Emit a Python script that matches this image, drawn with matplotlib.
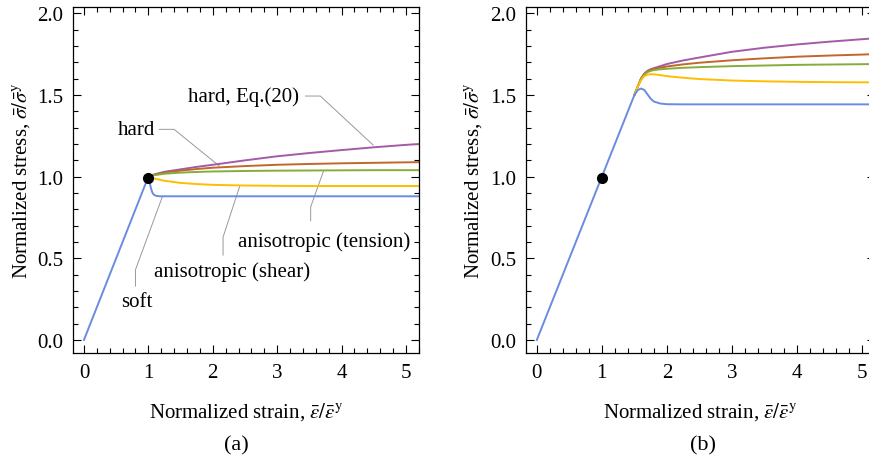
import numpy as np
import matplotlib
matplotlib.use('Agg')
import matplotlib.pyplot as plt

plt.rcParams['font.family'] = ['Liberation Serif', 'DejaVu Serif']
plt.rcParams['mathtext.fontset'] = 'stix'

# Colours of the five models
col_soft = '#6a8ce0'
col_shear = '#ffbe00'
col_tension = '#86ad3a'
col_hard = '#c0682c'
col_eq20 = '#a35aa8'

# Panel (a): elastic branch, then plastic branches from the yield point
elastic_a_x = [0.0, 1.0]
elastic_a_y = [0.0, 1.0]

plastic_a_x = [1.0, 1.1, 1.25, 1.5, 1.75, 2.0, 2.5, 3.0, 3.5, 4.0, 4.5, 5.0, 5.2]
eq20_a = [1.0, 1.015, 1.03, 1.045, 1.06, 1.073, 1.10, 1.125, 1.145, 1.163, 1.18, 1.195, 1.20]
hard_a = [1.0, 1.012, 1.025, 1.037, 1.047, 1.055, 1.065, 1.073, 1.078, 1.082, 1.085, 1.088, 1.089]
tension_a = [1.0, 1.01, 1.018, 1.025, 1.029, 1.032, 1.035, 1.037, 1.038, 1.039, 1.04, 1.04, 1.04]
shear_a = [1.0, 0.988, 0.975, 0.962, 0.955, 0.95, 0.946, 0.944, 0.943, 0.943, 0.943, 0.943, 0.943]

soft_a_x = [1.0, 1.02, 1.04, 1.06, 1.08, 1.1, 1.13, 1.18, 1.3, 2.0, 5.2]
soft_a_y = [1.0, 0.965, 0.93, 0.905, 0.892, 0.886, 0.882, 0.88, 0.88, 0.88, 0.88]

# Panel (b)
elastic_b_x = [0.0, 1.5]
elastic_b_y = [0.0, 1.5]

plastic_b_x = [1.5, 1.55, 1.6, 1.65, 1.7, 1.75, 1.8, 1.9, 2.0, 2.25, 2.5, 3.0, 3.5, 4.0, 4.5, 5.0, 5.2]
soft_b = [1.5, 1.53, 1.54, 1.532, 1.505, 1.478, 1.46, 1.448, 1.444, 1.443, 1.443, 1.443, 1.443, 1.443, 1.443, 1.443, 1.443]
shear_b = [1.5, 1.55, 1.59, 1.615, 1.625, 1.628, 1.627, 1.622, 1.616, 1.606, 1.598, 1.589, 1.584, 1.581, 1.579, 1.578, 1.578]
tension_b = [1.5, 1.55, 1.595, 1.625, 1.64, 1.648, 1.653, 1.658, 1.661, 1.667, 1.671, 1.677, 1.681, 1.685, 1.687, 1.689, 1.69]
hard_b = [1.5, 1.55, 1.598, 1.628, 1.645, 1.655, 1.661, 1.668, 1.675, 1.688, 1.698, 1.713, 1.725, 1.735, 1.742, 1.748, 1.751]
eq20_b = [1.5, 1.55, 1.60, 1.63, 1.648, 1.658, 1.665, 1.677, 1.69, 1.712, 1.73, 1.765, 1.79, 1.81, 1.827, 1.842, 1.848]

yield_x = [1.0]
yield_y = [0.99]

# Labels and leader lines of panel (a): text position, then leader polyline
labels_a = ['hard, Eq.(20)', 'hard', 'anisotropic (tension)', 'anisotropic (shear)', 'soft']
label_pos = [(2.48, 1.494), (0.82, 1.29), (3.73, 0.606), (2.30, 0.42), (0.82, 0.233)]
leader_x = [[3.44, 3.67, 4.49], [1.17, 1.40, 2.10], [3.72, 3.52, 3.52], [2.42, 2.16, 2.16], [1.22, 0.80, 0.80]]
leader_y = [[1.494, 1.494, 1.194], [1.29, 1.29, 1.066], [1.035, 0.815, 0.73], [0.943, 0.63, 0.52], [0.88, 0.43, 0.33]]

fs = 15


def style_axes(ax):
    ax.set_xlim(-0.17, 5.17)
    ax.set_ylim(-0.08, 2.04)
    ax.set_xticks([0, 1, 2, 3, 4, 5])
    ax.set_yticks([0.0, 0.5, 1.0, 1.5, 2.0])
    ax.set_yticklabels(['0.0', '0.5', '1.0', '1.5', '2.0'])
    ax.set_xticks(np.arange(0, 5.21, 0.2), minor=True)
    ax.set_yticks(np.arange(0, 2.01, 0.1), minor=True)
    ax.tick_params(which='both', direction='in', top=True, right=True, labelsize=fs, width=0.8)
    ax.tick_params(which='major', length=6, pad=7)
    ax.tick_params(which='minor', length=3.5)
    for s in ax.spines.values():
        s.set_linewidth(0.9)
    ax.set_xlabel(r'Normalized strain, $\bar{\varepsilon}/\bar{\varepsilon}^{\mathrm{y}}$', fontsize=fs, labelpad=13)
    ax.set_ylabel(r'Normalized stress, $\bar{\sigma}/\bar{\sigma}^{\mathrm{y}}$', fontsize=fs, labelpad=4)


fig = plt.figure(figsize=(8.69, 4.64), dpi=100)
ax1 = fig.add_axes([0.084, 0.237, 0.398, 0.746])
ax2 = fig.add_axes([0.605, 0.237, 0.402, 0.746])

lw = 1.4

# (a)
for i in range(len(labels_a)):
    ax1.plot(leader_x[i], leader_y[i], color='#999999', lw=0.7, zorder=1)
    ax1.text(label_pos[i][0], label_pos[i][1], labels_a[i], fontsize=fs, ha='center', va='center')
ax1.plot(elastic_a_x, elastic_a_y, color=col_soft, lw=lw)
ax1.plot(plastic_a_x, eq20_a, color=col_eq20, lw=lw)
ax1.plot(plastic_a_x, hard_a, color=col_hard, lw=lw)
ax1.plot(plastic_a_x, tension_a, color=col_tension, lw=lw)
ax1.plot(plastic_a_x, shear_a, color=col_shear, lw=lw)
ax1.plot(soft_a_x, soft_a_y, color=col_soft, lw=lw)
ax1.plot(yield_x, yield_y, 'o', color='black', ms=7, zorder=5)
style_axes(ax1)

# (b)
ax2.plot(elastic_b_x, elastic_b_y, color=col_soft, lw=lw)
ax2.plot(plastic_b_x, eq20_b, color=col_eq20, lw=lw)
ax2.plot(plastic_b_x, hard_b, color=col_hard, lw=lw)
ax2.plot(plastic_b_x, tension_b, color=col_tension, lw=lw)
ax2.plot(plastic_b_x, shear_b, color=col_shear, lw=lw)
ax2.plot(plastic_b_x, soft_b, color=col_soft, lw=lw)
ax2.plot(yield_x, yield_y, 'o', color='black', ms=7, zorder=5)
style_axes(ax2)

fig.text(236 / 869, 1 - 446 / 464, '(a)', fontsize=fs + 1, ha='center', va='center')
fig.text(703 / 869, 1 - 446 / 464, '(b)', fontsize=fs + 1, ha='center', va='center')

fig.savefig('out.png', dpi=100)
